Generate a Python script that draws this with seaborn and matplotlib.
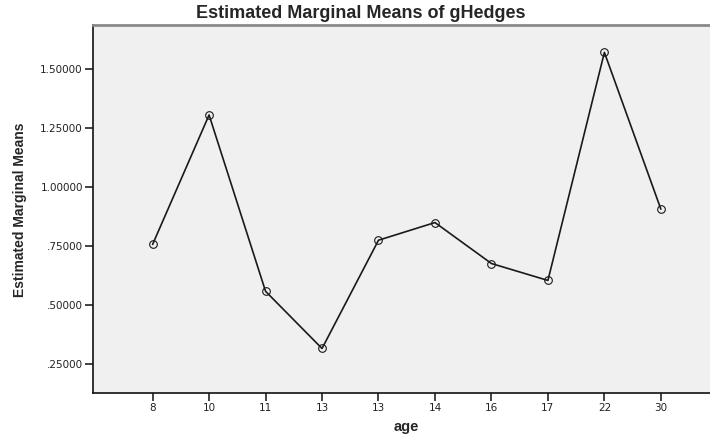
import matplotlib
matplotlib.use("Agg")
import matplotlib.pyplot as plt
import seaborn as sns
import pandas as pd
import numpy as np

ages = ["8", "10", "11", "13", "13", "14", "16", "17", "22", "30"]
means = [0.756, 1.306, 0.557, 0.314, 0.774, 0.849, 0.675, 0.603, 1.572, 0.906]
ytick_vals = [0.25, 0.50, 0.75, 1.00, 1.25, 1.50]
ytick_labels = [".25000", ".50000", ".75000", "1.00000", "1.25000", "1.50000"]

df = pd.DataFrame({"pos": np.arange(len(ages)), "mean": means})

sns.set_theme(style="white")
plt.rcParams['font.family'] = ['DejaVu Sans']

W, H = 710, 436
fig = plt.figure(figsize=(W / 100, H / 100), dpi=100)
ax = fig.add_axes([93.3 / W, (H - 392.5) / H, 1 - 93.3 / W, (392.5 - 25.3) / H])
ax.set_facecolor("#f0f0f0")

sns.lineplot(data=df, x="pos", y="mean", ax=ax, color="#1a1a1a", linewidth=1.2,
             marker="o", markersize=5.5, markerfacecolor="none",
             markeredgecolor="#1a1a1a", markeredgewidth=0.8)

ax.set_xlim(-1.05, 9.87)
ax.set_ylim(0.127, 1.687)
ax.set_xticks(range(len(ages)))
ax.set_xticklabels(ages)
ax.set_yticks(ytick_vals)
ax.set_yticklabels(ytick_labels)
ax.tick_params(axis="both", direction="out", length=6, width=1.2, color="#222222",
               labelsize=7.5, labelcolor="#222222", pad=1.5, left=True, bottom=True)

for s in ["left", "bottom"]:
    ax.spines[s].set_color("#111111")
    ax.spines[s].set_linewidth(1.2)
ax.spines["top"].set_color("#8a8a8a")
ax.spines["top"].set_linewidth(2)
ax.spines["right"].set_visible(False)

ax.set_xlabel("")
ax.set_ylabel("")
fig.text(406.7 / W, 1 - 427 / H, "age", ha="center", va="center",
         fontsize=10.5, fontweight="bold", family="Liberation Sans")
fig.text(20 / W, 1 - 210 / H, "Estimated Marginal Means", ha="center", va="center",
         rotation=90, fontsize=10, fontweight="bold",
         family=["Liberation Sans Narrow", "Liberation Sans"])
fig.text(361 / W, 1 - 13 / H, "Estimated Marginal Means of gHedges", ha="center", va="center",
         fontsize=13, fontweight="bold", family="Liberation Sans")

fig.savefig("out.png", dpi=100)
